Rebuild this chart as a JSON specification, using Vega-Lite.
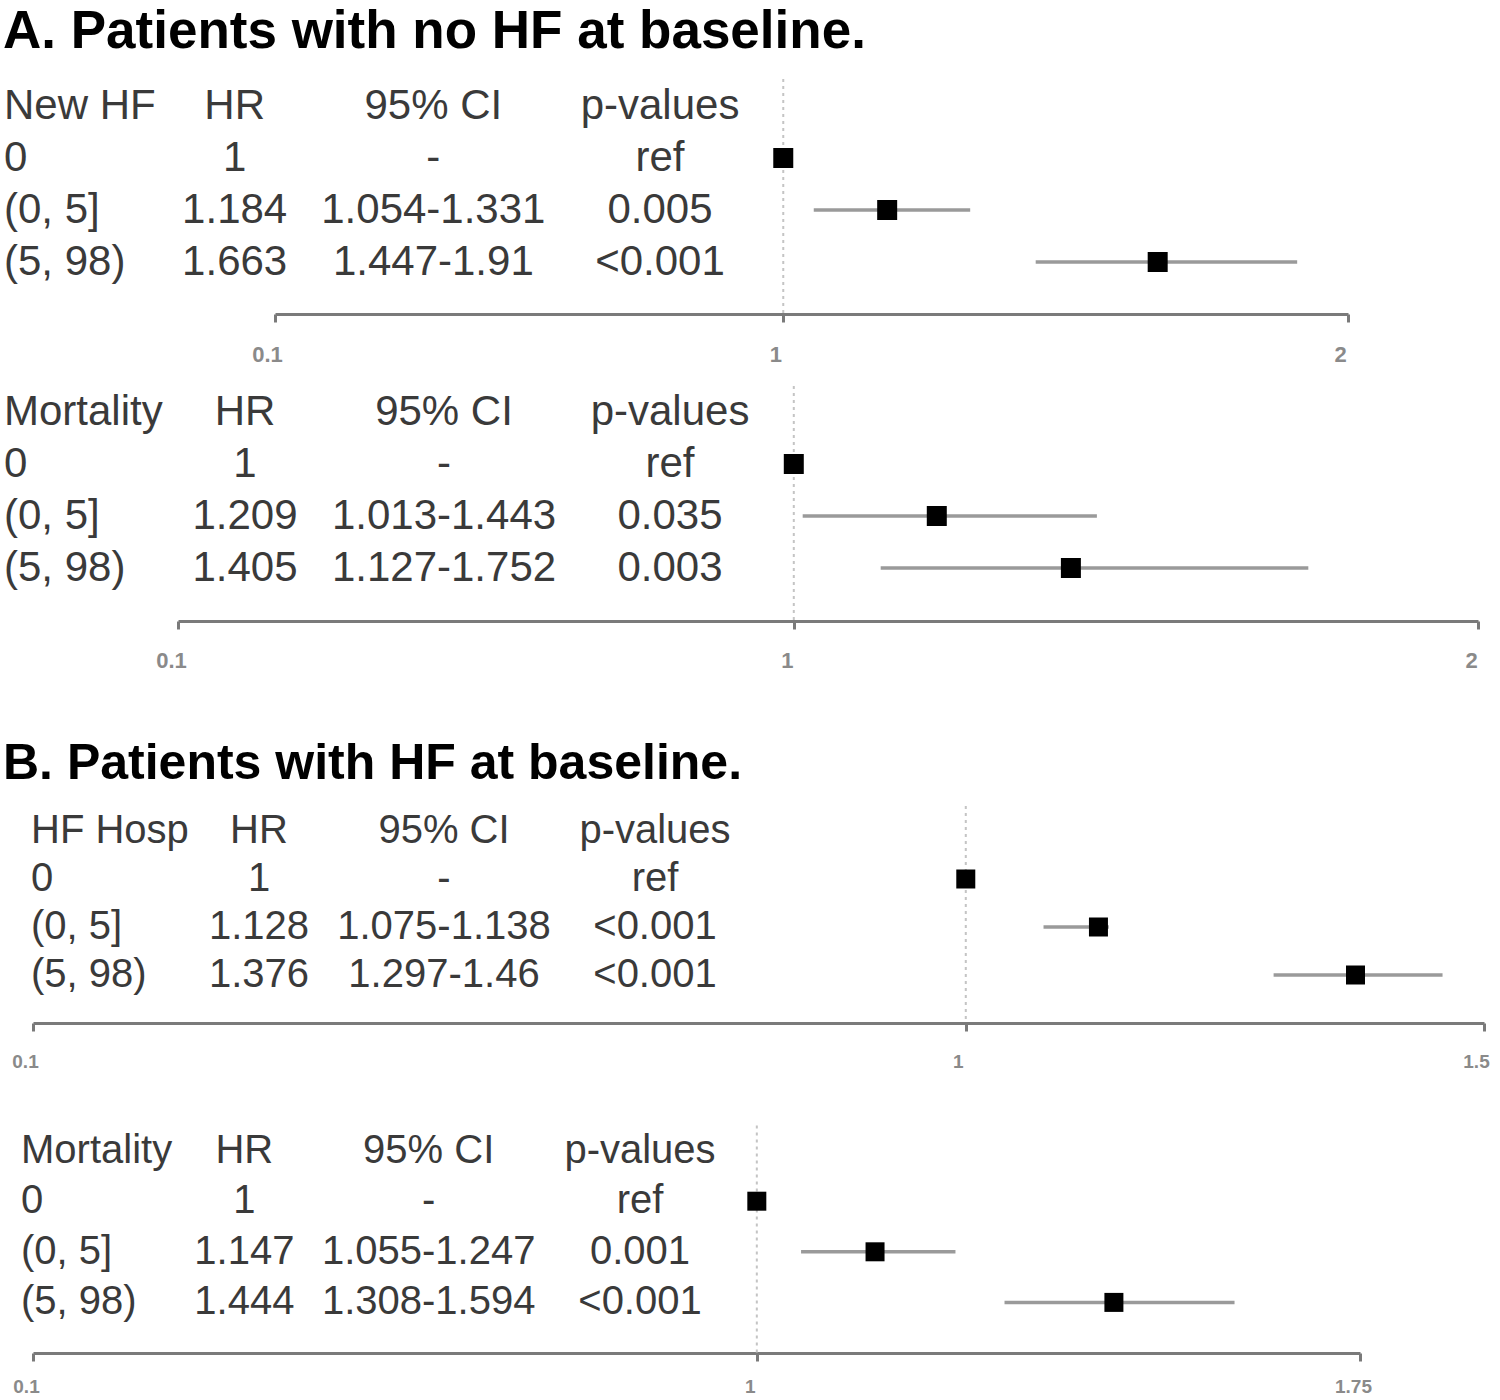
{
  "$schema": "https://vega.github.io/schema/vega-lite/v6.json",
  "padding": {"top": 6, "left": 0, "right": 0, "bottom": 0},
  "background": "white",
  "config": {
    "view": {"stroke": null},
    "font": "Liberation Sans",
    "axis": {
      "grid": false,
      "title": null,
      "orient": "bottom",
      "labelExpr": "datum.value + ''",
      "domainColor": "#7a7a7a",
      "domainWidth": 3,
      "tickColor": "#7a7a7a",
      "tickWidth": 3,
      "tickSize": 8,
      "labelColor": "#8a8a8a",
      "labelFontWeight": "bold",
      "labelFlush": false,
      "labelFont": "Liberation Sans"
    },
    "title": {"anchor": "start", "frame": "group", "fontWeight": "bold", "color": "#000000", "font": "Liberation Sans", "dx": 3}
  },
  "datasets": {
    "p1": [
      {"label": "New HF", "HR": "HR", "CI": "95% CI", "pval": "p-values", "est": null, "lo": null, "hi": null},
      {"label": "0", "HR": "1", "CI": "-", "pval": "ref", "est": 1, "lo": null, "hi": null},
      {"label": "(0, 5]", "HR": "1.184", "CI": "1.054-1.331", "pval": "0.005", "est": 1.184, "lo": 1.054, "hi": 1.331},
      {"label": "(5, 98)", "HR": "1.663", "CI": "1.447-1.91", "pval": "<0.001", "est": 1.663, "lo": 1.447, "hi": 1.91}
    ],
    "p2": [
      {"label": "Mortality", "HR": "HR", "CI": "95% CI", "pval": "p-values", "est": null, "lo": null, "hi": null},
      {"label": "0", "HR": "1", "CI": "-", "pval": "ref", "est": 1, "lo": null, "hi": null},
      {"label": "(0, 5]", "HR": "1.209", "CI": "1.013-1.443", "pval": "0.035", "est": 1.209, "lo": 1.013, "hi": 1.443},
      {"label": "(5, 98)", "HR": "1.405", "CI": "1.127-1.752", "pval": "0.003", "est": 1.405, "lo": 1.127, "hi": 1.752}
    ],
    "p3": [
      {"label": "HF Hosp", "HR": "HR", "CI": "95% CI", "pval": "p-values", "est": null, "lo": null, "hi": null},
      {"label": "0", "HR": "1", "CI": "-", "pval": "ref", "est": 1, "lo": null, "hi": null},
      {"label": "(0, 5]", "HR": "1.128", "CI": "1.075-1.138", "pval": "<0.001", "est": 1.128, "lo": 1.075, "hi": 1.138},
      {"label": "(5, 98)", "HR": "1.376", "CI": "1.297-1.46", "pval": "<0.001", "est": 1.376, "lo": 1.297, "hi": 1.46}
    ],
    "p4": [
      {"label": "Mortality", "HR": "HR", "CI": "95% CI", "pval": "p-values", "est": null, "lo": null, "hi": null},
      {"label": "0", "HR": "1", "CI": "-", "pval": "ref", "est": 1, "lo": null, "hi": null},
      {"label": "(0, 5]", "HR": "1.147", "CI": "1.055-1.247", "pval": "0.001", "est": 1.147, "lo": 1.055, "hi": 1.247},
      {"label": "(5, 98)", "HR": "1.444", "CI": "1.308-1.594", "pval": "<0.001", "est": 1.444, "lo": 1.308, "hi": 1.594}
    ]
  },
  "spacing": 68,
  "vconcat": [
    {
      "title": {"text": "A. Patients with no HF at baseline.", "fontSize": 53, "offset": -5},
      "spacing": 2,
      "vconcat": [
        {
          "width": 1500, "height": 260,
          "data": {"name": "p1"},
          "resolve": {"scale": {"x": "independent"}},
          "layer": [
            {
              "encoding": {
                "y": {"field": "label", "type": "nominal", "scale": {"type": "point", "domain": ["New HF", "0", "(0, 5]", "(5, 98)"], "padding": 1, "align": 0.5}, "axis": null}
              },
              "layer": [
                {"mark": {"type": "text", "align": "left", "baseline": "middle", "fontSize": 42, "color": "#3a3a3a"},
                 "encoding": {"x": {"datum": "label", "type": "nominal", "scale": {"type": "point", "domain": ["label", "HR", "CI", "p"], "range": [4, 660], "padding": 0}, "axis": null}, "text": {"field": "label"}}},
                {"mark": {"type": "text", "align": "center", "baseline": "middle", "fontSize": 42, "color": "#3a3a3a", "dx": 12},
                 "encoding": {"x": {"datum": "HR", "type": "nominal"}, "text": {"field": "HR"}}},
                {"mark": {"type": "text", "align": "center", "baseline": "middle", "fontSize": 42, "color": "#3a3a3a", "dx": -8},
                 "encoding": {"x": {"datum": "CI", "type": "nominal"}, "text": {"field": "CI"}}},
                {"mark": {"type": "text", "align": "center", "baseline": "middle", "fontSize": 42, "color": "#3a3a3a"},
                 "encoding": {"x": {"datum": "p", "type": "nominal"}, "text": {"field": "pval"}}}
              ]
            },
            {
              "encoding": {
                "x": {"type": "quantitative", "scale": {"domain": [0.1, 2], "range": [275, 1348], "nice": false, "zero": false},
                      "axis": {"orient": "bottom", "values": [0.1, 1, 2], "labelFontSize": 22, "labelPadding": 22, "labelOffset": -8}}
              },
              "layer": [
                {"data": {"values": [{"ref": 1}]}, "mark": {"type": "rule", "color": "#c4c4c4", "strokeWidth": 2, "strokeDash": [3, 4], "yOffset": -27},
                 "encoding": {"x": {"field": "ref", "type": "quantitative"}, "y": {"datum": "New HF", "type": "nominal"}, "y2": {"value": "height"}}},
                {"mark": {"type": "rule", "color": "#9a9a9a", "strokeWidth": 3.5},
                 "encoding": {"x": {"field": "lo", "type": "quantitative"}, "x2": {"field": "hi"},
                              "y": {"field": "label", "type": "nominal", "scale": {"type": "point", "domain": ["New HF", "0", "(0, 5]", "(5, 98)"], "padding": 1, "align": 0.5}, "axis": null}}},
                {"mark": {"type": "square", "filled": true, "color": "#000000", "opacity": 1, "size": 400},
                 "encoding": {"x": {"field": "est", "type": "quantitative"},
                              "y": {"field": "label", "type": "nominal", "axis": null}}}
              ]
            }
          ]
        },
        {
          "width": 1500, "height": 254,
          "data": {"name": "p2"},
          "resolve": {"scale": {"x": "independent"}},
          "layer": [
            {
              "encoding": {
                "y": {"field": "label", "type": "nominal", "scale": {"type": "point", "domain": ["Mortality", "0", "(0, 5]", "(5, 98)"], "padding": 0.942, "align": 0.459}, "axis": null}
              },
              "layer": [
                {"mark": {"type": "text", "align": "left", "baseline": "middle", "fontSize": 42, "color": "#3a3a3a"},
                 "encoding": {"x": {"datum": "label", "type": "nominal", "scale": {"type": "point", "domain": ["label", "HR", "CI", "p"], "range": [4, 670], "padding": 0}, "axis": null}, "text": {"field": "label"}}},
                {"mark": {"type": "text", "align": "center", "baseline": "middle", "fontSize": 42, "color": "#3a3a3a", "dx": 19},
                 "encoding": {"x": {"datum": "HR", "type": "nominal"}, "text": {"field": "HR"}}},
                {"mark": {"type": "text", "align": "center", "baseline": "middle", "fontSize": 42, "color": "#3a3a3a", "dx": -4},
                 "encoding": {"x": {"datum": "CI", "type": "nominal"}, "text": {"field": "CI"}}},
                {"mark": {"type": "text", "align": "center", "baseline": "middle", "fontSize": 42, "color": "#3a3a3a"},
                 "encoding": {"x": {"datum": "p", "type": "nominal"}, "text": {"field": "pval"}}}
              ]
            },
            {
              "encoding": {
                "x": {"type": "quantitative", "scale": {"domain": [0.1, 2], "range": [178, 1478], "nice": false, "zero": false},
                      "axis": {"orient": "bottom", "values": [0.1, 1, 2], "labelFontSize": 22, "labelPadding": 21, "labelOffset": -7}}
              },
              "layer": [
                {"data": {"values": [{"ref": 1}]}, "mark": {"type": "rule", "color": "#c4c4c4", "strokeWidth": 2, "strokeDash": [3, 4], "yOffset": -26},
                 "encoding": {"x": {"field": "ref", "type": "quantitative"}, "y": {"datum": "Mortality", "type": "nominal"}, "y2": {"value": "height"}}},
                {"mark": {"type": "rule", "color": "#9a9a9a", "strokeWidth": 3.5},
                 "encoding": {"x": {"field": "lo", "type": "quantitative"}, "x2": {"field": "hi"},
                              "y": {"field": "label", "type": "nominal", "scale": {"type": "point", "domain": ["Mortality", "0", "(0, 5]", "(5, 98)"], "padding": 0.942, "align": 0.459}, "axis": null}}},
                {"mark": {"type": "square", "filled": true, "color": "#000000", "opacity": 1, "size": 400},
                 "encoding": {"x": {"field": "est", "type": "quantitative"},
                              "y": {"field": "label", "type": "nominal", "axis": null}}}
              ]
            }
          ]
        }
      ]
    },
    {
      "title": {"text": "B. Patients with HF at baseline.", "fontSize": 50, "offset": -6},
      "spacing": 29,
      "vconcat": [
        {
          "width": 1500, "height": 240,
          "data": {"name": "p3"},
          "resolve": {"scale": {"x": "independent"}},
          "layer": [
            {
              "encoding": {
                "y": {"field": "label", "type": "nominal", "scale": {"type": "point", "domain": ["HF Hosp", "0", "(0, 5]", "(5, 98)"], "padding": 1, "align": 0.5}, "axis": null}
              },
              "layer": [
                {"mark": {"type": "text", "align": "left", "baseline": "middle", "fontSize": 40, "color": "#3a3a3a"},
                 "encoding": {"x": {"datum": "label", "type": "nominal", "scale": {"type": "point", "domain": ["label", "HR", "CI", "p"], "range": [31, 655], "padding": 0}, "axis": null}, "text": {"field": "label"}}},
                {"mark": {"type": "text", "align": "center", "baseline": "middle", "fontSize": 40, "color": "#3a3a3a", "dx": 20},
                 "encoding": {"x": {"datum": "HR", "type": "nominal"}, "text": {"field": "HR"}}},
                {"mark": {"type": "text", "align": "center", "baseline": "middle", "fontSize": 40, "color": "#3a3a3a", "dx": -3},
                 "encoding": {"x": {"datum": "CI", "type": "nominal"}, "text": {"field": "CI"}}},
                {"mark": {"type": "text", "align": "center", "baseline": "middle", "fontSize": 40, "color": "#3a3a3a"},
                 "encoding": {"x": {"datum": "p", "type": "nominal"}, "text": {"field": "pval"}}}
              ]
            },
            {
              "encoding": {
                "x": {"type": "quantitative", "scale": {"domain": [0.1, 1.5], "range": [33, 1484], "nice": false, "zero": false},
                      "axis": {"orient": "bottom", "values": [0.1, 1, 1.5], "labelFontSize": 19, "labelPadding": 21, "labelOffset": -8}}
              },
              "layer": [
                {"data": {"values": [{"ref": 1}]}, "mark": {"type": "rule", "color": "#c4c4c4", "strokeWidth": 2, "strokeDash": [3, 4], "yOffset": -25},
                 "encoding": {"x": {"field": "ref", "type": "quantitative"}, "y": {"datum": "HF Hosp", "type": "nominal"}, "y2": {"value": "height"}}},
                {"mark": {"type": "rule", "color": "#9a9a9a", "strokeWidth": 3.5},
                 "encoding": {"x": {"field": "lo", "type": "quantitative"}, "x2": {"field": "hi"},
                              "y": {"field": "label", "type": "nominal", "scale": {"type": "point", "domain": ["HF Hosp", "0", "(0, 5]", "(5, 98)"], "padding": 1, "align": 0.5}, "axis": null}}},
                {"mark": {"type": "square", "filled": true, "color": "#000000", "opacity": 1, "size": 361},
                 "encoding": {"x": {"field": "est", "type": "quantitative"},
                              "y": {"field": "label", "type": "nominal", "axis": null}}}
              ]
            }
          ]
        },
        {
          "width": 1500, "height": 253,
          "data": {"name": "p4"},
          "resolve": {"scale": {"x": "independent"}},
          "layer": [
            {
              "encoding": {
                "y": {"field": "label", "type": "nominal", "scale": {"type": "point", "domain": ["Mortality", "0", "(0, 5]", "(5, 98)"], "padding": 1.12, "align": 0.5}, "axis": null}
              },
              "layer": [
                {"mark": {"type": "text", "align": "left", "baseline": "middle", "fontSize": 40, "color": "#3a3a3a"},
                 "encoding": {"x": {"datum": "label", "type": "nominal", "scale": {"type": "point", "domain": ["label", "HR", "CI", "p"], "range": [21, 640], "padding": 0}, "axis": null}, "text": {"field": "label"}}},
                {"mark": {"type": "text", "align": "center", "baseline": "middle", "fontSize": 40, "color": "#3a3a3a", "dx": 17},
                 "encoding": {"x": {"datum": "HR", "type": "nominal"}, "text": {"field": "HR"}}},
                {"mark": {"type": "text", "align": "center", "baseline": "middle", "fontSize": 40, "color": "#3a3a3a", "dx": -5},
                 "encoding": {"x": {"datum": "CI", "type": "nominal"}, "text": {"field": "CI"}}},
                {"mark": {"type": "text", "align": "center", "baseline": "middle", "fontSize": 40, "color": "#3a3a3a"},
                 "encoding": {"x": {"datum": "p", "type": "nominal"}, "text": {"field": "pval"}}}
              ]
            },
            {
              "encoding": {
                "x": {"type": "quantitative", "scale": {"domain": [0.1, 1.75], "range": [33, 1360], "nice": false, "zero": false},
                      "axis": {"orient": "bottom", "values": [0.1, 1, 1.75], "labelFontSize": 19, "labelPadding": 16, "labelOffset": -7}}
              },
              "layer": [
                {"data": {"values": [{"ref": 1}]}, "mark": {"type": "rule", "color": "#c4c4c4", "strokeWidth": 2, "strokeDash": [3, 4], "yOffset": -25},
                 "encoding": {"x": {"field": "ref", "type": "quantitative"}, "y": {"datum": "Mortality", "type": "nominal"}, "y2": {"value": "height"}}},
                {"mark": {"type": "rule", "color": "#9a9a9a", "strokeWidth": 3.5},
                 "encoding": {"x": {"field": "lo", "type": "quantitative"}, "x2": {"field": "hi"},
                              "y": {"field": "label", "type": "nominal", "scale": {"type": "point", "domain": ["Mortality", "0", "(0, 5]", "(5, 98)"], "padding": 1.12, "align": 0.5}, "axis": null}}},
                {"mark": {"type": "square", "filled": true, "color": "#000000", "opacity": 1, "size": 361},
                 "encoding": {"x": {"field": "est", "type": "quantitative"},
                              "y": {"field": "label", "type": "nominal", "axis": null}}}
              ]
            }
          ]
        }
      ]
    }
  ]
}
